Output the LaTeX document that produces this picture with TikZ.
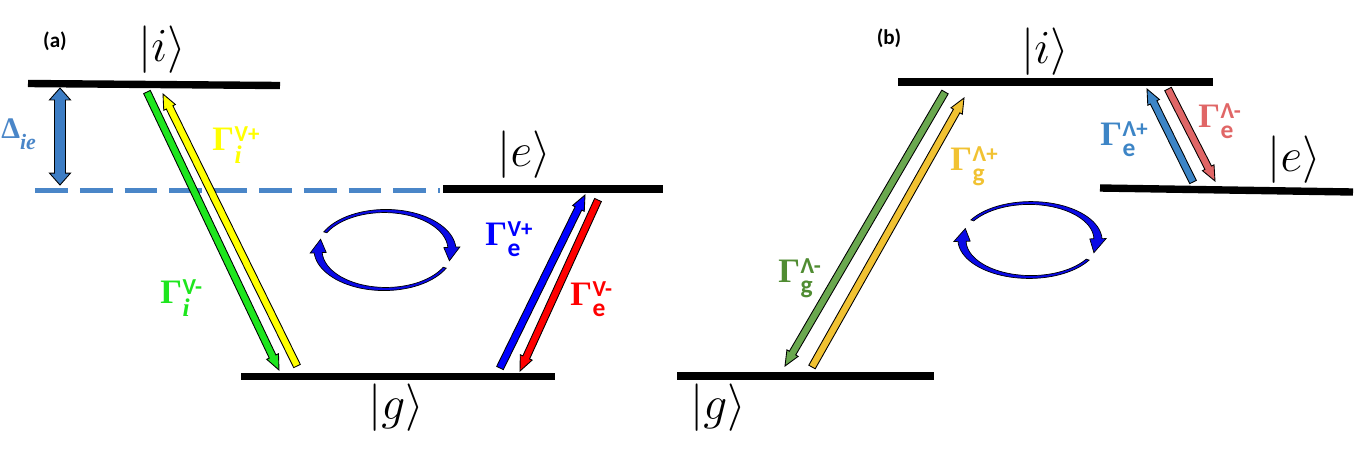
\documentclass[tikz,border=0pt]{standalone}
\usepackage{fix-cm}
\usepackage{amsmath}
\usepackage{fontspec}
\newfontfamily\carl{Carlito}
\newfontfamily\lserif{Liberation Serif}
\usetikzlibrary{calc}
\definecolor{dashblue}{RGB}{74,134,200}
\definecolor{dblfill}{RGB}{61,125,196}
\definecolor{agreen}{RGB}{30,230,30}
\definecolor{ayellow}{RGB}{255,255,0}
\definecolor{ablue}{RGB}{0,0,255}
\definecolor{ared}{RGB}{255,0,0}
\definecolor{bgreen}{RGB}{106,168,79}
\definecolor{bgreenlab}{RGB}{80,140,50}
\definecolor{bgold}{RGB}{241,194,50}
\definecolor{bblue}{RGB}{61,133,198}
\definecolor{bred}{RGB}{224,102,102}
\definecolor{cblue}{RGB}{10,10,230}
\tikzset{
  level/.style={line width=4.2pt, black},
  fat/.style={draw=black, line width=0.5pt, line join=miter},
  circarr/.style={draw=black, line width=0.4pt, fill=cblue},
  ket/.style={font=\fontsize{27}{30}\selectfont, inner sep=0pt},
  glab/.style={inner sep=0pt, anchor=base west},
  tag/.style={font=\carl\bfseries\fontsize{12}{14}\selectfont, inner sep=0pt}
}
\newcommand\gfont{\lserif\bfseries\fontsize{19.5}{21}\selectfont}
\newcommand\supfont{\carl\bfseries\fontsize{13}{14}\selectfont}
\newcommand\subsans[1]{\raisebox{-6.5pt}{\carl\bfseries\fontsize{14.5}{16}\selectfont #1}}
\newcommand\subital[1]{\raisebox{-7.8pt}{\lserif\bfseries\itshape\fontsize{14.5}{16}\selectfont #1}}
\newcommand\glabel[2]{{\gfont Γ}\hspace{0.3pt}\rlap{\raisebox{4.6pt}{\supfont #1}}#2}
\newcommand\fatarr[6]{%
  \coordinate (fa-b) at ($(#3)!#6!(#2)$);
  \filldraw[fat, fill=#1] ($(#2)!#4!90:(#3)$) -- ($(fa-b)!#4!-90:(#2)$) -- ($(fa-b)!#5!-90:(#2)$) -- (#3) -- ($(fa-b)!#5!90:(#2)$) -- ($(fa-b)!#4!90:(#2)$) -- ($(#2)!#4!-90:(#3)$) -- cycle;}
\newcommand\dblarr[6]{%
  \coordinate (da-a) at ($(#2)!#6!(#3)$);
  \coordinate (da-b) at ($(#3)!#6!(#2)$);
  \filldraw[fat, fill=#1] (#2) -- ($(da-a)!#5!90:(#3)$) -- ($(da-a)!#4!90:(#3)$) -- ($(da-b)!#4!-90:(#2)$) -- ($(da-b)!#5!-90:(#2)$) -- (#3) -- ($(da-b)!#5!90:(#2)$) -- ($(da-b)!#4!90:(#2)$) -- ($(da-a)!#4!-90:(#3)$) -- ($(da-a)!#5!-90:(#3)$) -- cycle;}
\newcommand\circarr[7]{%
  \filldraw[circarr]
  plot[domain=#5:#6,samples=40] ({#1+(1.025+0.035*(\x-#5)/(#6-#5))*#3*cos(\x)},{#2+(1.025+0.035*(\x-#5)/(#6-#5))*#4*sin(\x)})
  -- ({#1+1.12*#3*cos(#6)},{#2+1.12*#4*sin(#6)})
  -- ({#1+#3*cos(#7)},{#2+#4*sin(#7)})
  -- ({#1+0.88*#3*cos(#6)},{#2+0.88*#4*sin(#6)})
  -- plot[domain=#6:#5,samples=40] ({#1+(0.975-0.035*(\x-#5)/(#6-#5))*#3*cos(\x)},{#2+(0.975-0.035*(\x-#5)/(#6-#5))*#4*sin(\x)})
  -- cycle;}
\begin{document}
\begin{tikzpicture}[x=0.02cm,y=-0.02cm]
\useasboundingbox (0,0) rectangle (1359,461);
% ---------- (a) ----------
\coordinate (ai-l) at (28,83.5);  \coordinate (ai-r) at (280,85.5);
\coordinate (ae-l) at (443,189);  \coordinate (ae-r) at (663,189);
\coordinate (ag-l) at (241,376.5);\coordinate (ag-r) at (555,376.5);
\coordinate (dl-l) at (35,190.5); \coordinate (dl-r) at (440,190.5);
\coordinate (d-top) at (60,88);   \coordinate (d-bot) at (60,185);
\draw[level] (ai-l) -- (ai-r);
\draw[level] (ae-l) -- (ae-r);
\draw[level] (ag-l) -- (ag-r);
\draw[dashblue, line width=2.3pt, dash pattern=on 18.7pt off 6.8pt] (dl-l) -- (dl-r);
\dblarr{dblfill}{d-top}{d-bot}{3.1pt}{6pt}{6.8pt}
\coordinate (g1s) at (147,92);  \coordinate (g1t) at (279,370);
\coordinate (y1s) at (297,366); \coordinate (y1t) at (163,94);
\coordinate (b1s) at (500,368); \coordinate (b1t) at (585,195);
\coordinate (r1s) at (598,200); \coordinate (r1t) at (520,371);
\fatarr{agreen}{g1s}{g1t}{2.1pt}{3.7pt}{8.5pt}
\fatarr{ayellow}{y1s}{y1t}{2.1pt}{3.7pt}{8.5pt}
\fatarr{ablue}{b1s}{b1t}{2.1pt}{3.7pt}{8.5pt}
\fatarr{ared}{r1s}{r1t}{2.1pt}{3.7pt}{8.5pt}
\circarr{385}{250}{67}{39}{207}{356}{16}
\circarr{385}{250}{67}{39}{27}{176}{196}
\node[tag] (ta) at (55,41) {(a)};
\node[ket] (ki-a) at (162,50) {$|i\rangle$};
\node[ket] (ke-a) at (524,155) {$|e\rangle$};
\node[ket] (kg-a) at (396,408) {$|g\rangle$};
\node[glab, text=dashblue] (delta) at (1,138) {{\lserif\bfseries\fontsize{17}{18}\selectfont Δ}\raisebox{-6.5pt}{\lserif\bfseries\itshape\fontsize{12.5}{13}\selectfont ie}};
\node[glab, text=ayellow] (l1) at (212,150) {\glabel{V+}{\subital{i}}};
\node[glab, text=agreen] (l2) at (160,303) {\glabel{V-}{\subital{i}}};
\node[glab, text=ablue] (l3) at (485,245) {\glabel{V+}{\subsans{e}}};
\node[glab, text=ared] (l4) at (570,305) {\glabel{V-}{\subsans{e}}};
% ---------- (b) ----------
\coordinate (bi-l) at (898,82);   \coordinate (bi-r) at (1213,82);
\coordinate (be-l) at (1100,188); \coordinate (be-r) at (1353,192);
\coordinate (bg-l) at (677,376);  \coordinate (bg-r) at (934,376);
\draw[level] (bi-l) -- (bi-r);
\draw[level] (be-l) -- (be-r);
\draw[level] (bg-l) -- (bg-r);
\coordinate (g2s) at (945,92);   \coordinate (g2t) at (785,366);
\coordinate (y2s) at (812,367);  \coordinate (y2t) at (964,98);
\coordinate (b2s) at (1193,182); \coordinate (b2t) at (1147,89);
\coordinate (r2s) at (1168,89);  \coordinate (r2t) at (1215,181);
\fatarr{bgreen}{g2s}{g2t}{2.1pt}{3.7pt}{8.5pt}
\fatarr{bgold}{y2s}{y2t}{2.1pt}{3.7pt}{8.5pt}
\fatarr{bblue}{b2s}{b2t}{2.1pt}{3.7pt}{8.5pt}
\fatarr{bred}{r2s}{r2t}{2.1pt}{3.7pt}{8.5pt}
\circarr{1030}{240}{68}{37}{212}{358}{20}
\circarr{1030}{240}{68}{37}{32}{178}{198}
\node[tag] (tb) at (889,38) {(b)};
\node[ket] (ki-b) at (1045,52) {$|i\rangle$};
\node[ket] (ke-b) at (1294,160) {$|e\rangle$};
\node[ket] (kg-b) at (718,408) {$|g\rangle$};
\node[glab, text=bgold] (l5) at (950,170) {\glabel{Λ+}{\subsans{g}}};
\node[glab, text=bgreenlab] (l6) at (778,282) {\glabel{Λ-}{\subsans{g}}};
\node[glab, text=bblue] (l7) at (1100,145) {\glabel{Λ+}{\subsans{e}}};
\node[glab, text=bred] (l8) at (1198,127) {\glabel{Λ-}{\subsans{e}}};
\end{tikzpicture}
\end{document}
